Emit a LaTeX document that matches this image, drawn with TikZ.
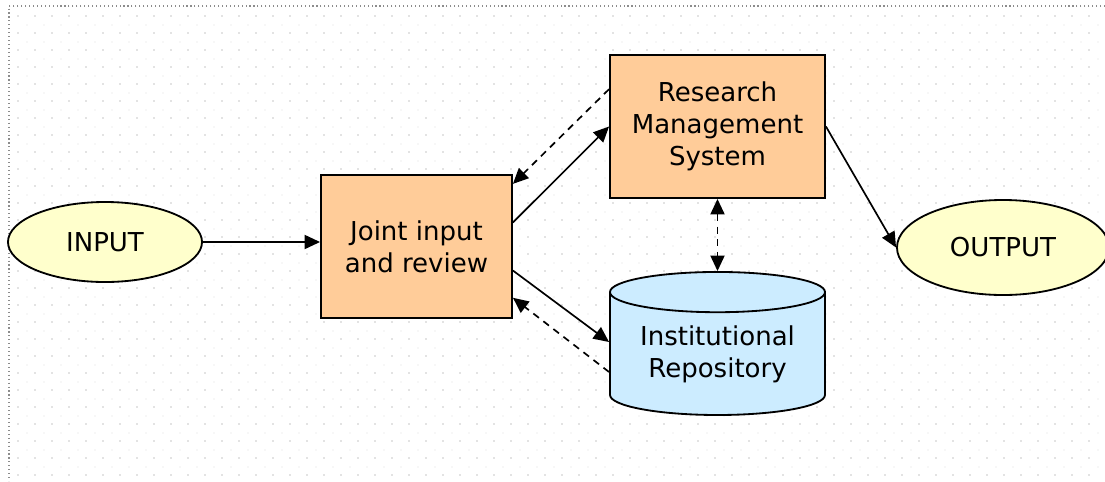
\documentclass[tikz,border=0pt]{standalone}
\usepackage{fontspec}
\setmainfont{DejaVu Sans}
\usepackage{xcolor}
\usepackage{tikz}
\usetikzlibrary{arrows.meta,shapes.geometric}
\definecolor{boxfill}{HTML}{FFCC99}
\definecolor{endfill}{HTML}{FFFFCC}
\definecolor{repofill}{HTML}{CCECFF}
\tikzstyle{stepbox}=[rectangle,draw,line width=1.3pt,fill=boxfill,minimum width=4.775cm,minimum height=3.575cm,align=center,inner sep=0pt]
\tikzstyle{endpoint}=[ellipse,draw,line width=1.3pt,fill=endfill,minimum width=4.85cm,minimum height=2.0cm,inner sep=0pt]
\tikzstyle{store}=[cylinder,shape border rotate=90,draw,line width=1.3pt,fill=repofill,aspect=0.26,minimum width=5.375cm,minimum height=3.575cm,align=center,inner sep=0pt]
\tikzstyle{flow}=[-{Triangle[length=11pt,width=10pt]},line width=1.2pt]
\tikzstyle{back}=[flow,dashed,dash pattern=on 5pt off 4pt]
\begin{document}
\begin{tikzpicture}[x=0.025cm,y=-0.025cm,font=\fontsize{18.5}{22.7}\selectfont]

  \useasboundingbox (0,0) rectangle (1105,481);

  % dotted page background
  \foreach \y in {16,33,...,475}
    \foreach \x in {18,35,...,1100}
      \fill[black!22] (\x,\y) circle (0.9);
  \foreach \y in {25,42,...,475}
    \foreach \x in {27,44,...,1100}
      \fill[black!14] (\x,\y) circle (0.7);
  \draw[black!45,dotted,line width=0.8pt] (1105,6) -- (9,6) -- (9,481);

  \node[endpoint] (input) at (105,242) {INPUT};
  \node[endpoint,minimum width=5.3cm,minimum height=2.375cm] (output) at (1003,247.5) {OUTPUT};
  \node[stepbox] (joint) at (416.5,246.5) {Joint input\\and review};
  \node[stepbox,minimum width=5.375cm] (rms) at (717.5,126.5) {Research\\Management\\System};
  \node[store] (repo) at (717.5,354) {Institutional\\Repository};

  \draw[flow] (input.east) -- (joint.west |- input.east);
  \draw[flow] (joint.14) -- (rms.west);
  \draw[back] (rms.161) -- (joint.33);
  \draw[flow] (joint.-14) -- ([yshift=0.3cm]repo.west);
  \draw[back] ([yshift=-0.45cm]repo.west) -- (joint.-28);
  \draw[back,{Triangle[length=11pt,width=10pt]}-{Triangle[length=11pt,width=10pt]}] (rms.south) -- (repo.north);
  \draw[flow] (rms.east) -- (output.west);

\end{tikzpicture}
\end{document}
